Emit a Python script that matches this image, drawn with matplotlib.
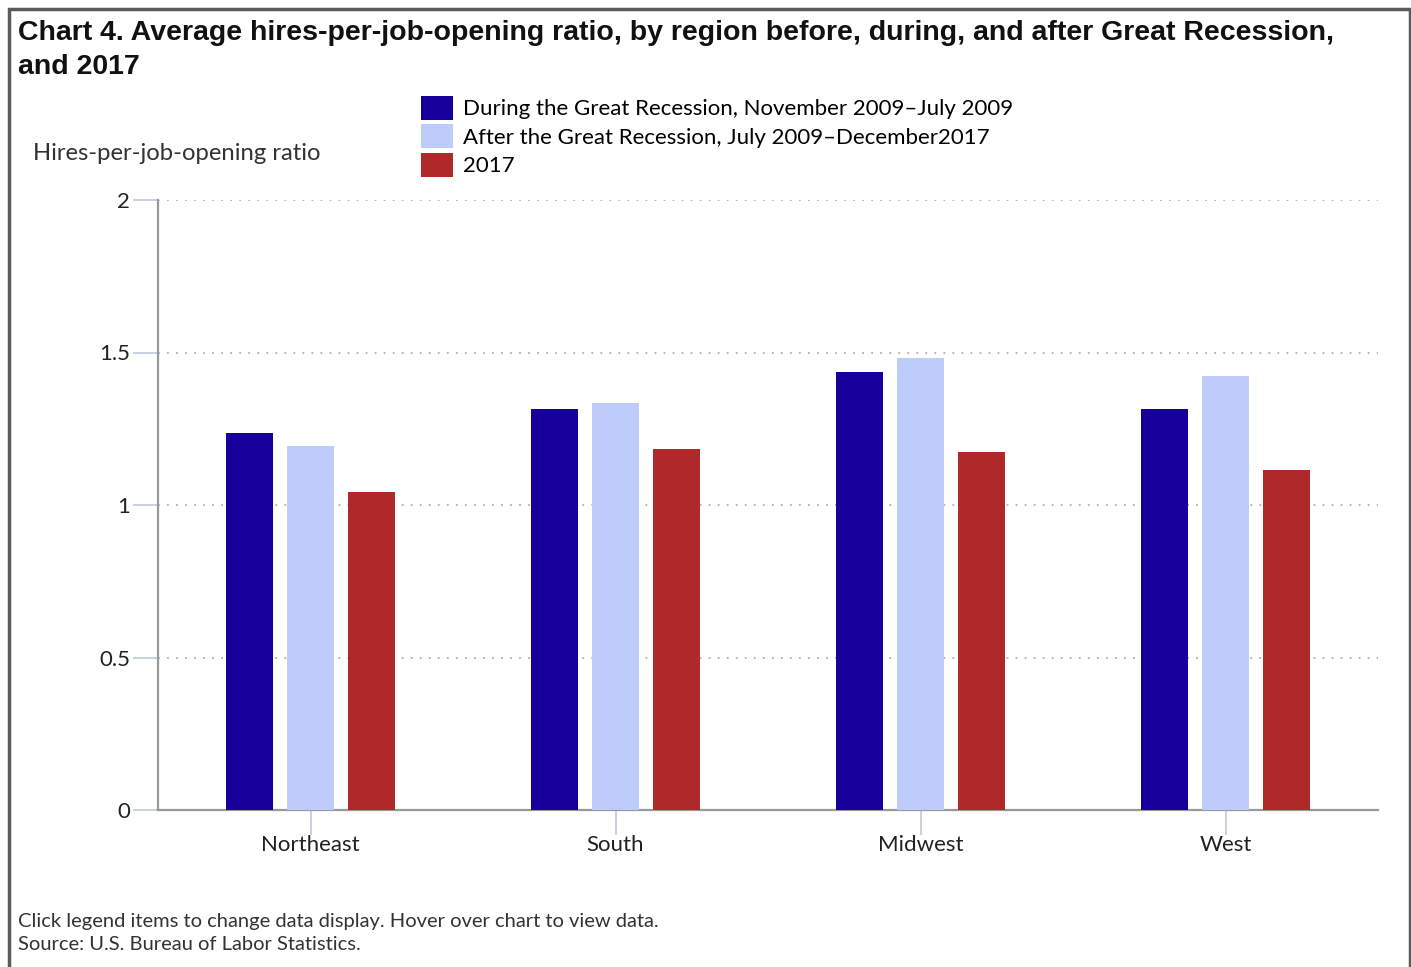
import numpy as np
import matplotlib
matplotlib.use("Agg")
import matplotlib.pyplot as plt
from matplotlib.patches import Rectangle

# Hires-per-job-opening ratio by region
regions = ["Northeast", "South", "Midwest", "West"]
during = [1.236, 1.316, 1.436, 1.316]
after = [1.195, 1.336, 1.482, 1.422]
y2017 = [1.042, 1.182, 1.175, 1.115]

series_labels = [
    "During the Great Recession, November 2009\u2013July 2009",
    "After the Great Recession, July 2009\u2013December2017",
    "2017",
]
series_colors = ["#15009c", "#bdccfb", "#b0292a"]
yticks = [0, 0.5, 1, 1.5, 2]
ytick_labels = ["0", "0.5", "1", "1.5", "2"]

plt.rcParams["font.family"] = ["Lato", "DejaVu Sans"]

fig = plt.figure(figsize=(14.11, 9.67), dpi=100)
ax = fig.add_axes([158 / 1411, 1 - 810 / 967, 1220 / 1411, 610 / 967])

x = np.arange(len(regions))
width = 0.151
offsets = [-0.2, 0.0, 0.2]
handles = []
for vals, off, col, lab in zip([during, after, y2017], offsets, series_colors, series_labels):
    h = ax.bar(x + off, vals, width, color=col, label=lab, zorder=3)
    handles.append(h)

ax.set_xlim(-0.5, len(regions) - 0.5)
ax.set_ylim(0, 2)
ax.set_yticks(yticks)
ax.set_yticklabels(ytick_labels)
ax.set_xticks(x)
ax.set_xticklabels(regions)

ax.grid(axis="y", linestyle=(0, (1, 4)), color="#b0b0b0", linewidth=1.3, zorder=0)
ax.grid(axis="x", visible=False)

for side in ["top", "right"]:
    ax.spines[side].set_visible(False)
ax.spines["left"].set_color("#999999")
ax.spines["left"].set_linewidth(1.6)
ax.spines["bottom"].set_color("#999999")
ax.spines["bottom"].set_linewidth(1.6)

ax.tick_params(axis="y", length=18, width=1.2, color="#c0cadc", pad=2,
               labelsize=16, labelcolor="#222222")
ax.tick_params(axis="x", length=18, width=1.2, color="#c0cadc", pad=0,
               labelsize=16, labelcolor="#222222")

title_font = ["Liberation Sans", "DejaVu Sans"]
fig.text(18 / 1411, 1 - 33 / 967,
         "Chart 4. Average hires-per-job-opening ratio, by region before, during, and after Great Recession,",
         family=title_font, fontweight="bold", fontsize=20.5,
         va="center", ha="left", color="#111111")
fig.text(18 / 1411, 1 - 67 / 967, "and 2017",
         family=title_font, fontweight="bold", fontsize=20.5,
         va="center", ha="left", color="#111111")

fig.text(33 / 1411, 1 - 153 / 967, "Hires-per-job-opening ratio",
         fontsize=17.2, va="center", ha="left", color="#333333")

fig.legend(handles=handles, labels=series_labels, loc="upper left",
           bbox_to_anchor=(405 / 1411, 1 - 80 / 967), frameon=False,
           fontsize=16, handlelength=1.44, handleheight=1.3, handletextpad=0.45,
           labelspacing=0.2, borderpad=0.2)

fig.text(18 / 1411, 1 - 921 / 967,
         "Click legend items to change data display. Hover over chart to view data.",
         fontsize=14.5, va="center", ha="left", color="#333333")
fig.text(18 / 1411, 1 - 945 / 967, "Source: U.S. Bureau of Labor Statistics.",
         fontsize=14.5, va="center", ha="left", color="#333333")

# outer frame
fig.patches.append(Rectangle((9 / 1411, -0.01), 1401 / 1411, 1 - 9 / 967 + 0.01,
                             transform=fig.transFigure, fill=False,
                             edgecolor="#5a5a5a", linewidth=2.5))

fig.savefig("out.png", dpi=100)
